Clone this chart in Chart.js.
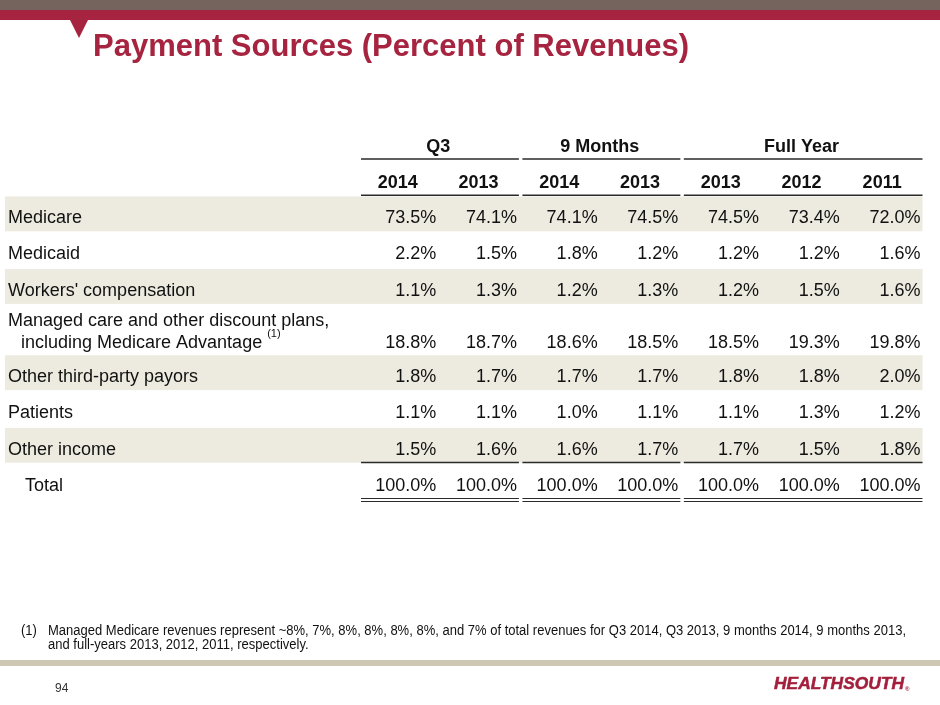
<!DOCTYPE html>
<html>
<head>
<meta charset="utf-8">
<title>Payment Sources (Percent of Revenues)</title>
<script src="https://cdn.jsdelivr.net/npm/chart.js@4.4.1/dist/chart.umd.min.js"></script>
<style>
  html, body { margin: 0; padding: 0; background: #fff; }
  body { width: 940px; height: 705px; position: relative; overflow: hidden; font-family: "Liberation Sans", Arial, sans-serif; }
  #chart { position: absolute; left: 0; top: 0; }
  .band { position: absolute; left: 0; width: 940px; }
  #topGray { top: 0; height: 10px; background: #74645d; }
  #topRed { top: 10px; height: 10px; background: #a6243f; }
  #tri { position: absolute; left: 70px; top: 20px; width: 0; height: 0;
         border-left: 9px solid transparent; border-right: 9px solid transparent; border-top: 18px solid #a6243f; }
  #title { position: absolute; left: 93px; top: 30px; font-size: 31px; line-height: 31px; font-weight: bold; color: #a6243f; white-space: nowrap; }
  #footBand { top: 660px; height: 6px; background: #cdc7b4; }
  #fnMark, #fnText { position: absolute; top: 623px; font-family: "Liberation Sans Narrow", "Liberation Sans", Arial, sans-serif;
         font-size: 14px; line-height: 14px; color: #111; white-space: nowrap; transform-origin: 0 0; }
  #fnMark { left: 21px; }
  #fnText { left: 48px; }
  #fnText div { display: block; }
  #fl1 { display: inline-block !important; }
  #page { position: absolute; left: 55px; top: 682px; font-size: 12px; line-height: 12px; color: #333; }
  #logo { position: absolute; left: 774px; top: 675px; font-size: 17px; line-height: 17px; font-weight: bold; font-style: italic;
          color: #a31f3b; white-space: nowrap; transform-origin: 0 0; -webkit-text-stroke: 0.5px #a31f3b; }
  #logo sup { font-size: 6px; font-style: normal; vertical-align: -2px; margin-left: 1px; -webkit-text-stroke: 0; }
</style>
</head>
<body>
<canvas id="chart" width="940" height="705"></canvas>
<div id="topGray" class="band"></div>
<div id="topRed" class="band"></div>
<div id="tri"></div>
<div id="title">Payment Sources (Percent of Revenues)</div>
<div id="fnMark">(1)</div>
<div id="fnText">
  <div id="fl1">Managed Medicare revenues represent ~8%, 7%, 8%, 8%, 8%, 8%, and 7% of total revenues for Q3 2014, Q3 2013, 9 months 2014, 9 months 2013,</div>
  <div>and full-years 2013, 2012, 2011, respectively.</div>
</div>
<div id="footBand" class="band"></div>
<div id="page">94</div>
<div id="logo"><span id="logoText">HEALTHSOUTH</span><sup>®</sup></div>

<script>
// table data
const rowLabels = [
  ['Medicare'],
  ['Medicaid'],
  ["Workers' compensation"],
  ['Managed care and other discount plans,', 'including Medicare Advantage'],
  ['Other third-party payors'],
  ['Patients'],
  ['Other income'],
  ['Total']
];
const noteMark = '(1)';
const groupLabels = ['Q3', '9 Months', 'Full Year'];
const groupSpans = [2, 2, 3];
const yearLabels = ['2014', '2013', '2014', '2013', '2013', '2012', '2011'];

const q3_2014 = [73.5, 2.2, 1.1, 18.8, 1.8, 1.1, 1.5, 100.0];
const q3_2013 = [74.1, 1.5, 1.3, 18.7, 1.7, 1.1, 1.6, 100.0];
const nineMo_2014 = [74.1, 1.8, 1.2, 18.6, 1.7, 1.0, 1.6, 100.0];
const nineMo_2013 = [74.5, 1.2, 1.3, 18.5, 1.7, 1.1, 1.7, 100.0];
const fy_2013 = [74.5, 1.2, 1.2, 18.5, 1.8, 1.1, 1.7, 100.0];
const fy_2012 = [73.4, 1.2, 1.5, 19.3, 1.8, 1.3, 1.5, 100.0];
const fy_2011 = [72.0, 1.6, 1.6, 19.8, 2.0, 1.2, 1.8, 100.0];
const columns = [q3_2014, q3_2013, nineMo_2014, nineMo_2013, fy_2013, fy_2012, fy_2011];

// layout: height of each row in row units (the managed care row holds two lines)
const rowUnits = [1, 1, 1, 1.375, 1, 1, 1, 1];
const rowStarts = [];
rowUnits.reduce((acc, u) => { rowStarts.push(acc); return acc + u; }, 0);
const totalUnits = rowUnits.reduce((a, b) => a + b, 0);
const rowCenters = rowStarts.map((s, i) => s + rowUnits[i] / 2);

const STRIPE = '#edeae0';
const INK = '#111';
const RULE = '#2a2a2a';
const LABEL_LEFT = 8;
const STRIPE_LEFT = 5;

function lineOffsets(n) {
  const first = 5 - (n - 1) * 13;
  const out = [];
  for (let k = 0; k < n; k++) out.push(first + k * 22);
  return out;
}

const tablePlugin = {
  id: 'tablePlugin',
  beforeDatasetsDraw(chart) {
    const ctx = chart.ctx, x = chart.scales.x, y = chart.scales.y;
    const right = x.getPixelForValue(columns.length) + 1;
    ctx.save();
    ctx.fillStyle = STRIPE;
    rowStarts.forEach((s, i) => {
      if (i % 2 === 0 && i < rowLabels.length - 1) {
        const top = y.getPixelForValue(s);
        const bot = y.getPixelForValue(s + rowUnits[i]);
        ctx.fillRect(STRIPE_LEFT, top + 1.5, right - STRIPE_LEFT, bot - top - 1.5);
      }
    });
    ctx.restore();
  },
  afterDatasetsDraw(chart) {
    const ctx = chart.ctx, x = chart.scales.x, y = chart.scales.y;
    ctx.save();
    ctx.fillStyle = INK;
    ctx.textBaseline = 'middle';

    // group headers and their rules
    const groupRuleY = y.getPixelForValue(-1) + 0.3;
    const yearRuleY = y.getPixelForValue(0) + 0.3;
    const incomeRuleY = y.getPixelForValue(rowStarts[rowStarts.length - 1]) - 0.2;
    const totalRuleY = y.getPixelForValue(totalUnits) - 0.5;
    let start = 0;
    ctx.font = 'bold 18px "Liberation Sans", Arial, sans-serif';
    ctx.textAlign = 'center';
    groupLabels.forEach((g, gi) => {
      const end = start + groupSpans[gi];
      const x0 = x.getPixelForValue(start) + 4.5;
      const x1 = x.getPixelForValue(end) + 1;
      ctx.fillText(g, x.getPixelForValue((start + end) / 2) + 1, groupRuleY - 12);
      ctx.strokeStyle = RULE;
      ctx.lineWidth = 1.6;
      [groupRuleY, yearRuleY, incomeRuleY].forEach(ly => {
        ctx.beginPath(); ctx.moveTo(x0, ly); ctx.lineTo(x1, ly); ctx.stroke();
      });
      ctx.lineWidth = 1.2;
      [totalRuleY, totalRuleY + 3].forEach(ly => {
        ctx.beginPath(); ctx.moveTo(x0, ly); ctx.lineTo(x1, ly); ctx.stroke();
      });
      start = end;
    });

    // year headers
    yearLabels.forEach((t, j) => {
      ctx.fillText(t, x.getPixelForValue(j + 0.5) + 1, yearRuleY - 12.5);
    });

    // row labels
    ctx.font = '18px "Liberation Sans", Arial, sans-serif';
    ctx.textAlign = 'left';
    rowLabels.forEach((lines, i) => {
      const cy = y.getPixelForValue(rowCenters[i]);
      const offs = lineOffsets(lines.length);
      const isTotal = i === rowLabels.length - 1;
      lines.forEach((t, k) => {
        const lx = isTotal ? LABEL_LEFT + 17 : LABEL_LEFT + (k > 0 ? 13 : 0);
        ctx.fillText(t, lx, cy + offs[k]);
        if (lines.length > 1 && k === lines.length - 1) {
          const w = ctx.measureText(t).width;
          ctx.font = '11px "Liberation Sans", Arial, sans-serif';
          ctx.fillText(noteMark, lx + w + 5, cy + offs[k] - 9);
          ctx.font = '18px "Liberation Sans", Arial, sans-serif';
        }
      });
    });

    // cell values, placed by the scatter elements
    ctx.textAlign = 'right';
    chart.data.datasets.forEach((ds, di) => {
      const meta = chart.getDatasetMeta(di);
      meta.data.forEach((el, i) => {
        const offs = lineOffsets(rowLabels[i].length);
        ctx.fillText(ds.data[i].v.toFixed(1) + '%', el.x - 1, el.y + offs[offs.length - 1]);
      });
    });
    ctx.restore();
  }
};

const datasets = columns.map((col, j) => ({
  label: yearLabels[j],
  data: col.map((v, i) => ({ x: j + 1, y: rowCenters[i], v })),
  pointRadius: 0,
  showLine: false
}));

new Chart(document.getElementById('chart'), {
  type: 'scatter',
  data: { datasets },
  options: {
    responsive: false,
    animation: false,
    events: [],
    layout: { padding: { left: 356.5, right: 18.5, top: 122.4, bottom: 206 } },
    scales: {
      x: { type: 'linear', min: 0, max: columns.length, display: false },
      y: { type: 'linear', min: -2, max: totalUnits, reverse: true, display: false }
    },
    plugins: { legend: { display: false }, tooltip: { enabled: false } }
  },
  plugins: [tablePlugin]
});

// fit the condensed footnote and logo to their widths
const fl1 = document.getElementById('fl1');
const sx = 858 / fl1.getBoundingClientRect().width;
document.getElementById('fnText').style.transform = `scaleX(${sx})`;
document.getElementById('fnMark').style.transform = `scaleX(${sx})`;
const logoText = document.getElementById('logoText');
const lx = 130 / logoText.getBoundingClientRect().width;
document.getElementById('logo').style.transform = `scaleX(${lx})`;
</script>
</body>
</html>
